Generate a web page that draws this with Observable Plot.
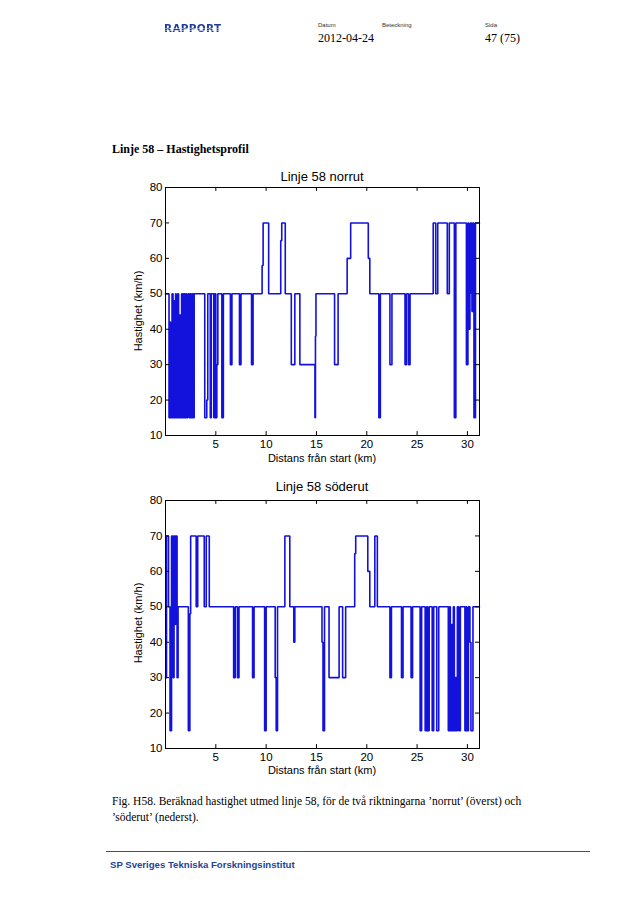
<!DOCTYPE html>
<html>
<head>
<meta charset="utf-8">
<script src="https://cdn.jsdelivr.net/npm/d3@7"></script>
<script src="https://cdn.jsdelivr.net/npm/@observablehq/plot@0.6"></script>
<style>
  html, body { margin: 0; padding: 0; background: #fff; }
  #page { position: relative; width: 638px; height: 903px; overflow: hidden; background: #fff; }
  .abs { position: absolute; white-space: nowrap; }
  .serif { font-family: "Liberation Serif", "DejaVu Serif", serif; color: #000; }
  .sans { font-family: "Liberation Sans", Arial, sans-serif; color: #000; }
</style>
</head>
<body>
<div id="page">
  <div class="abs" id="logo" style="left:164px; top:22px; font-family:'DejaVu Sans',sans-serif; font-weight:900; font-size:10.5px; letter-spacing:0.3px; line-height:12px; background:repeating-linear-gradient(180deg,#1f3d96 0px,#1f3d96 1.6px,#7f93c9 1.6px,#7f93c9 2.2px); -webkit-background-clip:text; background-clip:text; color:transparent;">RAPPORT</div>
  <div class="abs sans" style="left:318px; top:22px; font-size:6px; line-height:7px; color:#333;">Datum</div>
  <div class="abs serif" style="left:318px; top:31px; font-size:12px; line-height:14px;">2012-04-24</div>
  <div class="abs sans" style="left:382px; top:22px; font-size:6px; line-height:7px; color:#333;">Beteckning</div>
  <div class="abs sans" style="left:485px; top:22px; font-size:6px; line-height:7px; color:#333;">Sida</div>
  <div class="abs serif" style="left:485px; top:31px; font-size:12px; line-height:14px;">47 (75)</div>

  <div class="abs serif" style="left:112px; top:142px; font-size:12px; line-height:14px; font-weight:bold;">Linje 58 – Hastighetsprofil</div>

  <div class="abs sans" style="left:222px; width:200px; text-align:center; top:169px; font-size:13px; line-height:15px;">Linje 58 norrut</div>
  <div class="abs" id="chart1" style="left:100px; top:165px;"></div>
  <div class="abs sans" style="left:222px; width:200px; text-align:center; top:452px; font-size:11px; line-height:13px;">Distans från start (km)</div>
  <div class="abs sans" style="left:138px; top:311px; font-size:11px; line-height:13px; transform:translate(-50%,-50%) rotate(-90deg);">Hastighet (km/h)</div>

  <div class="abs sans" style="left:222px; width:200px; text-align:center; top:479px; font-size:13px; line-height:15px;">Linje 58 söderut</div>
  <div class="abs" id="chart2" style="left:100px; top:478px;"></div>
  <div class="abs sans" style="left:222px; width:200px; text-align:center; top:764px; font-size:11px; line-height:13px;">Distans från start (km)</div>
  <div class="abs sans" style="left:138px; top:623px; font-size:11px; line-height:13px; transform:translate(-50%,-50%) rotate(-90deg);">Hastighet (km/h)</div>

  <div class="abs serif" style="left:112px; top:793px; font-size:11.5px; line-height:16px;">Fig. H58. Beräknad hastighet utmed linje 58, för de två riktningarna ’norrut’ (överst) och<br>’söderut’ (nederst).</div>

  <div class="abs" style="left:106px; top:851px; width:484px; height:1px; background:#2d4f9c;"></div>
  <div class="abs sans" style="left:110px; top:859px; font-size:9.6px; line-height:12px; font-weight:bold; color:#23439a;">SP Sveriges Tekniska Forskningsinstitut</div>
</div>
<script>
// ---- Data ----
const xTicks = [5, 10, 15, 20, 25, 30];
const yTicks = [10, 20, 30, 40, 50, 60, 70, 80];
const xMax = 31.2;

// Linje 58 norrut: distance (km) where a speed step begins, and the speed (km/h)
const norrDist = [0, 0.35, 0.45, 0.5, 0.65, 0.75, 0.85, 0.9, 1.0, 1.05, 1.1, 1.2, 1.3, 1.4, 1.5, 1.6, 1.7, 1.8, 1.9, 2.0, 2.1, 2.2, 2.25, 2.35, 2.45, 2.55, 2.65, 2.75, 2.85, 3.9, 4.1, 4.2, 4.45, 4.55, 4.8, 4.9, 5.0, 5.1, 5.2, 5.6, 5.75, 6.45, 6.6, 7.35, 7.5, 8.55, 8.7, 9.6, 9.7, 10.25, 11.45, 11.55, 11.9, 12.5, 12.85, 13.35, 14.85, 14.9, 14.95, 16.8, 17.15, 18.05, 18.4, 20.15, 20.3, 21.2, 21.35, 22.3, 22.5, 23.8, 23.95, 24.15, 24.3, 26.6, 26.85, 27.05, 28.0, 28.2, 28.7, 28.85, 29.9, 30.05, 30.15, 30.25, 30.3, 30.45, 30.55, 30.65, 30.8, 31.2];
const norrSpeed = [50, 15, 42, 15, 50, 15, 48, 15, 50, 30, 15, 50, 15, 44, 15, 50, 15, 50, 15, 50, 15, 25, 50, 15, 50, 15, 50, 15, 50, 15, 20, 50, 15, 50, 15, 50, 15, 30, 50, 15, 50, 30, 50, 30, 50, 30, 50, 58, 70, 50, 65, 70, 50, 30, 50, 30, 15, 38, 50, 30, 50, 60, 70, 60, 50, 15, 50, 30, 50, 30, 50, 30, 50, 70, 50, 70, 50, 70, 15, 70, 30, 70, 40, 50, 70, 45, 70, 15, 70, 70];

// Linje 58 söderut
const soderDist = [0, 0.1, 0.3, 0.45, 0.6, 0.75, 0.85, 0.95, 1.0, 1.15, 1.25, 2.27, 2.42, 2.5, 3.05, 3.2, 3.85, 4.05, 4.35, 6.77, 6.93, 7.15, 7.3, 8.65, 8.8, 9.85, 10.0, 10.9, 11.0, 11.13, 11.86, 12.35, 12.75, 12.85, 15.55, 15.65, 15.8, 16.25, 17.25, 17.6, 17.9, 18.8, 18.9, 20.1, 20.3, 20.8, 21.05, 22.3, 22.45, 23.45, 23.6, 24.4, 24.55, 25.3, 25.45, 25.8, 25.95, 26.05, 26.2, 26.5, 26.65, 26.95, 27.15, 28.1, 28.2, 28.3, 28.4, 28.5, 28.6, 28.7, 28.8, 28.9, 29.0, 29.15, 29.3, 29.75, 29.85, 29.95, 30.1, 30.25, 30.35, 30.55, 31.2];
const soderSpeed = [30, 70, 50, 15, 70, 30, 70, 45, 70, 30, 50, 15, 48, 70, 50, 70, 50, 70, 50, 30, 50, 30, 50, 30, 50, 15, 50, 30, 15, 50, 70, 50, 40, 50, 40, 15, 50, 30, 50, 30, 50, 65, 70, 60, 50, 70, 50, 30, 50, 30, 50, 30, 50, 15, 50, 15, 50, 15, 50, 15, 50, 15, 50, 15, 50, 15, 45, 15, 50, 15, 30, 15, 50, 15, 50, 15, 50, 15, 50, 40, 15, 50, 50];

function rows(dist, speed) { return dist.map((d, i) => ({ d, v: speed[i] })); }

function chart(dist, speed, height) {
  return Plot.plot({
    width: 400, height,
    marginLeft: 65, marginRight: 21, marginTop: 22, marginBottom: height - 22 - 248,
    x: { domain: [0, xMax] },
    y: { domain: [10, 80] },
    style: { fontFamily: "'Liberation Sans', Arial, sans-serif", fontSize: "11.5px", color: "#000", background: "transparent", overflow: "visible" },
    marks: [
      Plot.line(rows(dist, speed), { x: "d", y: "v", curve: "step-after", stroke: "#1212dc", strokeWidth: 1.6, strokeLinejoin: "miter" }),
      Plot.ruleX(xTicks, { x: d => d, y1: 10, y2: 11.1, stroke: "#000" }),
      Plot.ruleX(xTicks, { x: d => d, y1: 80, y2: 78.9, stroke: "#000" }),
      Plot.ruleY(yTicks, { y: d => d, x1: 0, x2: 0.4, stroke: "#000" }),
      Plot.ruleY(yTicks, { y: d => d, x1: xMax, x2: xMax - 0.4, stroke: "#000" }),
      Plot.frame({ stroke: "#000", strokeWidth: 1 }),
      Plot.axisX(xTicks, { tickSize: 0, tickPadding: 4, label: null }),
      Plot.axisY(yTicks, { tickSize: 0, tickPadding: 3, label: null })
    ]
  });
}

document.getElementById("chart1").append(chart(norrDist, norrSpeed, 310));
document.getElementById("chart2").append(chart(soderDist, soderSpeed, 309));
</script>
</body>
</html>
